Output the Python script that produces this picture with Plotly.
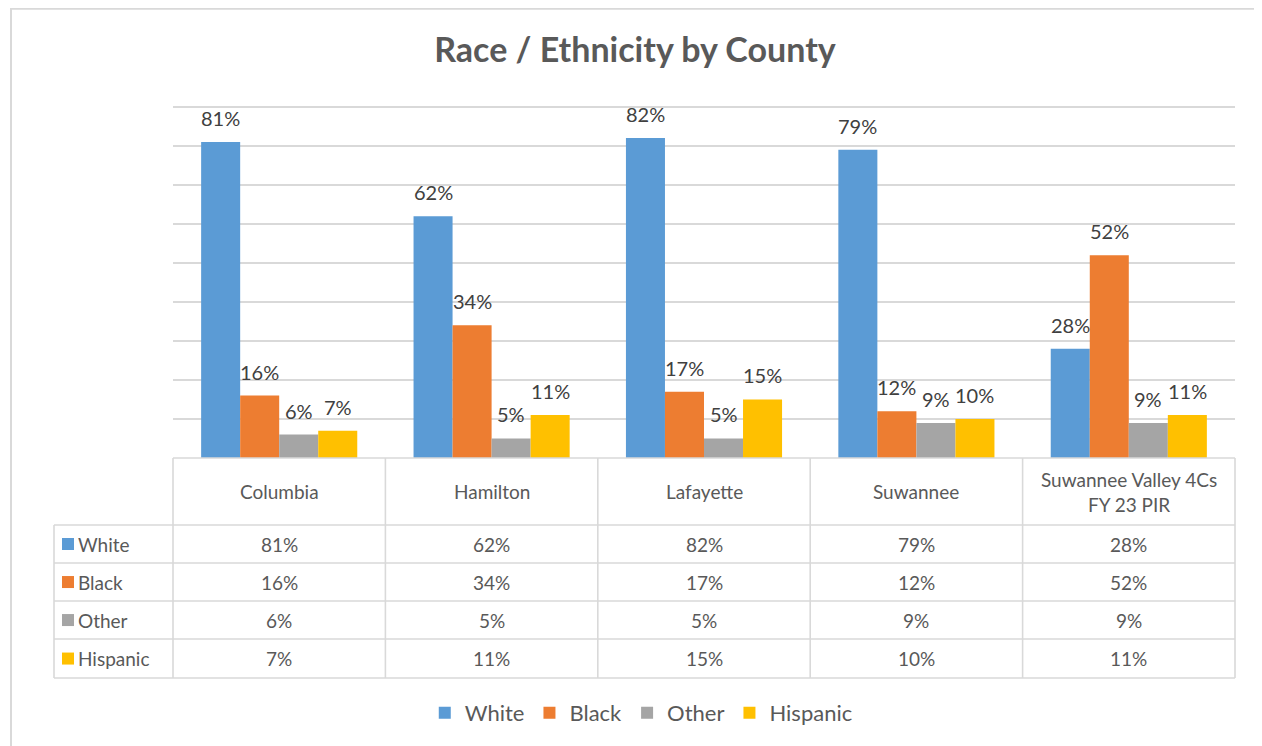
import plotly.graph_objects as go

# ---- data ----
counties = ["Columbia", "Hamilton", "Lafayette", "Suwannee", "Suwannee Valley 4Cs FY 23 PIR"]
county_labels = ["Columbia", "Hamilton", "Lafayette", "Suwannee", "Suwannee Valley 4Cs<br>FY 23 PIR"]
series_names = ["White", "Black", "Other", "Hispanic"]
white = [0.81, 0.62, 0.82, 0.79, 0.28]
black = [0.16, 0.34, 0.17, 0.12, 0.52]
other = [0.06, 0.05, 0.05, 0.09, 0.09]
hispanic = [0.07, 0.11, 0.15, 0.10, 0.11]
series_values = [white, black, other, hispanic]
colors = ["#5B9BD5", "#ED7D31", "#A5A5A5", "#FFC000"]

# ---- layout constants (page pixels; the page body has an 8px margin) ----
PAGE_W, PAGE_H = 1262, 746
OFF = 8
W, H = PAGE_W - OFF, PAGE_H - OFF
PX0, PX1 = 173, 1235        # plot area x (page px)
GRID_TOP, PY_BOT = 107, 458  # y of top gridline (0.9) and baseline (0)
FONT = "Lato"
TXT = "#595959"
LINE = "#d9d9d9"
BARGAP = 0.265
YMAX = 0.9
YRANGE_MAX = 0.91            # slight headroom so the 0.9 gridline is drawn
PX_PER_UNIT = (PY_BOT - GRID_TOP) / YMAX
PY_TOP = PY_BOT - YRANGE_MAX * PX_PER_UNIT

def xp(px):
    return (px - PX0) / (PX1 - PX0)

def yp(py):
    return (PY_BOT - py) / (PY_BOT - PY_TOP)

fig = go.Figure()
for name, vals, col in zip(series_names, series_values, colors):
    fig.add_trace(go.Bar(
        x=counties, y=vals, name=name, marker=dict(color=col, line=dict(width=0)),
        hovertemplate="%{x}: %{y:.0%}<extra>" + name + "</extra>",
    ))

annotations = []
# data labels above bars
cat_px = (PX1 - PX0) / len(counties)
bar_px = cat_px * (1 - BARGAP) / len(series_names)
for i, (name, vals) in enumerate(zip(series_names, series_values)):
    for c, v in zip(counties, vals):
        annotations.append(dict(x=c, xref="x", y=v, yref="y", text=f"{round(v*100)}%",
                                showarrow=False, xanchor="center", yanchor="bottom",
                                xshift=(i - (len(series_names) - 1) / 2) * bar_px, yshift=10,
                                font=dict(family=FONT, size=20, color="#404040")))

shapes = []
# outer chart border (extends beyond right/bottom edges)
shapes.append(dict(type="rect", xref="paper", yref="paper",
                   x0=xp(11), x1=xp(1290), y0=yp(780), y1=yp(9),
                   line=dict(color=LINE, width=2), layer="below"))

# table grid
ROW_Y = [458, 525, 563, 601, 639, 678]
TBL_L = 54
col_edges = [PX0 + i * cat_px for i in range(len(counties) + 1)]
for cx in col_edges:
    shapes.append(dict(type="line", xref="paper", yref="paper", x0=xp(cx), x1=xp(cx),
                       y0=yp(ROW_Y[0]), y1=yp(ROW_Y[-1]), line=dict(color=LINE, width=1.6)))
shapes.append(dict(type="line", xref="paper", yref="paper", x0=xp(TBL_L), x1=xp(TBL_L),
                   y0=yp(ROW_Y[1]), y1=yp(ROW_Y[-1]), line=dict(color=LINE, width=1.6)))
shapes.append(dict(type="line", xref="paper", yref="paper", x0=xp(PX0), x1=xp(PX1),
                   y0=yp(ROW_Y[0]), y1=yp(ROW_Y[0]), line=dict(color=LINE, width=1.6)))
for ry in ROW_Y[1:]:
    shapes.append(dict(type="line", xref="paper", yref="paper", x0=xp(TBL_L), x1=xp(PX1),
                       y0=yp(ry), y1=yp(ry), line=dict(color=LINE, width=1.6)))

# header row
for c, lab in zip(counties, county_labels):
    annotations.append(dict(x=c, xref="x", y=yp((ROW_Y[0] + ROW_Y[1]) / 2), yref="paper",
                            text=lab, showarrow=False, xanchor="center", yanchor="middle",
                            font=dict(family=FONT, size=19, color=TXT)))
# data rows
for r, (name, vals, col) in enumerate(zip(series_names, series_values, colors)):
    cy = (ROW_Y[r + 1] + ROW_Y[r + 2]) / 2
    shapes.append(dict(type="rect", xref="paper", yref="paper",
                       x0=xp(62), x1=xp(74), y0=yp(cy + 6), y1=yp(cy - 6),
                       fillcolor=col, line=dict(width=0)))
    annotations.append(dict(x=xp(76), xref="paper", y=yp(cy), yref="paper", text=name,
                            showarrow=False, xanchor="left", yanchor="middle",
                            font=dict(family=FONT, size=19, color=TXT)))
    for c, v in zip(counties, vals):
        annotations.append(dict(x=c, xref="x", y=yp(cy), yref="paper", text=f"{round(v*100)}%",
                                showarrow=False, xanchor="center", yanchor="middle",
                                font=dict(family=FONT, size=19, color=TXT)))

fig.update_layout(
    width=W, height=H,
    margin=dict(l=PX0 - OFF, r=PAGE_W - PX1, t=PY_TOP - OFF, b=PAGE_H - PY_BOT),
    paper_bgcolor="white", plot_bgcolor="white",
    title=dict(text="<b>Race / Ethnicity by County</b>", x=0.5, xref="container",
               xanchor="center", y=1 - (50 - OFF) / H, yanchor="middle",
               font=dict(family=FONT, size=34, color=TXT)),
    barmode="group", bargap=BARGAP, bargroupgap=0,
    xaxis=dict(showticklabels=False, showgrid=False, zeroline=False, showline=False,
               ticks=""),
    yaxis=dict(range=[0, YRANGE_MAX], dtick=0.1, tick0=0, showticklabels=False,
               showgrid=True, gridcolor=LINE, gridwidth=1.5, zeroline=False,
               showline=False, ticks=""),
    legend=dict(orientation="h", x=0.505, xref="container", xanchor="center",
                y=1 - (713 - OFF) / H, yref="container", yanchor="middle",
                font=dict(family=FONT, size=22, color=TXT), traceorder="normal",
                itemwidth=30),
    showlegend=True,
    shapes=shapes, annotations=annotations,
    font=dict(family=FONT, color=TXT),
)

fig.write_html("out.html")
